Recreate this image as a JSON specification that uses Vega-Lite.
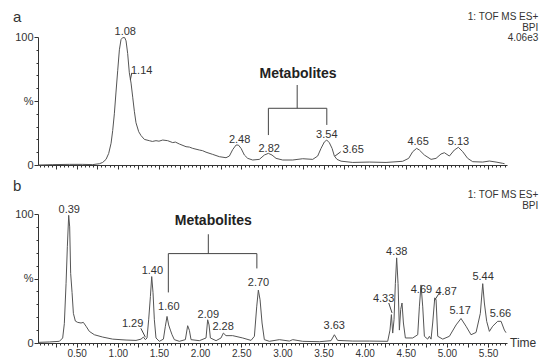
{
  "$schema": "https://vega.github.io/schema/vega-lite/v6.json",
  "padding": {"left": 13, "top": 10, "right": 0, "bottom": 0},
  "background": "white",
  "spacing": 9,
  "config": {
    "view": {"stroke": null},
    "font": "Liberation Sans",
    "axis": {"grid": false, "domainColor": "#333", "tickColor": "#333", "labelColor": "#333", "labelFont": "Liberation Sans"}
  },
  "datasets": {
    "a": [
      {"t":0.04,"v":0},{"t":0.209,"v":0.3},{"t":0.411,"v":0.5},{"t":0.573,"v":0.5},{"t":0.695,"v":0.3},{"t":0.776,"v":1},{"t":0.816,"v":2},{"t":0.857,"v":4.4},{"t":0.889,"v":9},{"t":0.918,"v":17},{"t":0.938,"v":27},{"t":0.958,"v":40},{"t":0.978,"v":57},{"t":0.999,"v":74},{"t":1.019,"v":90},{"t":1.039,"v":98},{"t":1.059,"v":99.5},{"t":1.084,"v":99.5},{"t":1.1,"v":97},{"t":1.12,"v":87},{"t":1.14,"v":72},{"t":1.161,"v":64},{"t":1.181,"v":53},{"t":1.201,"v":42},{"t":1.221,"v":33},{"t":1.254,"v":26},{"t":1.282,"v":23},{"t":1.323,"v":20},{"t":1.383,"v":19},{"t":1.42,"v":18.4},{"t":1.464,"v":19},{"t":1.5,"v":18.6},{"t":1.546,"v":19.5},{"t":1.606,"v":19},{"t":1.667,"v":17.5},{"t":1.7,"v":17.9},{"t":1.748,"v":16.4},{"t":1.829,"v":14.3},{"t":1.87,"v":14},{"t":1.91,"v":13},{"t":1.991,"v":11.7},{"t":2.03,"v":11.2},{"t":2.072,"v":10},{"t":2.153,"v":8.3},{"t":2.234,"v":6.5},{"t":2.315,"v":5.7},{"t":2.356,"v":7},{"t":2.396,"v":12},{"t":2.437,"v":15.6},{"t":2.465,"v":15.6},{"t":2.498,"v":13},{"t":2.538,"v":7.8},{"t":2.579,"v":5.2},{"t":2.639,"v":3.9},{"t":2.72,"v":4.4},{"t":2.781,"v":7.8},{"t":2.83,"v":9.1},{"t":2.874,"v":7.8},{"t":2.923,"v":5.2},{"t":3.004,"v":3.9},{"t":3.126,"v":3.9},{"t":3.247,"v":4.9},{"t":3.369,"v":4.4},{"t":3.429,"v":7},{"t":3.47,"v":13},{"t":3.51,"v":18},{"t":3.539,"v":19.5},{"t":3.571,"v":17.4},{"t":3.604,"v":13},{"t":3.632,"v":7},{"t":3.664,"v":4.4},{"t":3.713,"v":3},{"t":3.855,"v":2},{"t":4.057,"v":2.3},{"t":4.26,"v":2},{"t":4.462,"v":2.9},{"t":4.535,"v":5.2},{"t":4.584,"v":10.4},{"t":4.632,"v":13},{"t":4.665,"v":11.7},{"t":4.726,"v":7.8},{"t":4.807,"v":4.4},{"t":4.868,"v":5.2},{"t":4.928,"v":8.6},{"t":4.969,"v":9.6},{"t":5.03,"v":7},{"t":5.09,"v":11.7},{"t":5.139,"v":13.8},{"t":5.192,"v":10.4},{"t":5.252,"v":5.2},{"t":5.313,"v":2.6},{"t":5.435,"v":2.3},{"t":5.516,"v":3.1},{"t":5.597,"v":2.3},{"t":5.678,"v":1.3},{"t":5.7,"v":1}
    ],
    "b": [
      {"t":0.04,"v":0.5},{"t":0.168,"v":0.8},{"t":0.29,"v":1.3},{"t":0.33,"v":3.9},{"t":0.35,"v":15},{"t":0.371,"v":46},{"t":0.387,"v":75},{"t":0.403,"v":99},{"t":0.415,"v":90},{"t":0.427,"v":54},{"t":0.444,"v":39},{"t":0.46,"v":23},{"t":0.484,"v":17},{"t":0.512,"v":16},{"t":0.553,"v":15.5},{"t":0.581,"v":16},{"t":0.614,"v":13},{"t":0.654,"v":9},{"t":0.715,"v":6.4},{"t":0.816,"v":4.6},{"t":0.938,"v":3},{"t":1.1,"v":2.3},{"t":1.221,"v":2},{"t":1.282,"v":3},{"t":1.311,"v":4.6},{"t":1.335,"v":2.6},{"t":1.355,"v":3.9},{"t":1.375,"v":18},{"t":1.396,"v":36},{"t":1.412,"v":51.5},{"t":1.428,"v":39},{"t":1.444,"v":18},{"t":1.464,"v":3.9},{"t":1.505,"v":1.3},{"t":1.554,"v":3},{"t":1.578,"v":13},{"t":1.598,"v":20.6},{"t":1.618,"v":14},{"t":1.639,"v":10},{"t":1.659,"v":6.4},{"t":1.687,"v":2.6},{"t":1.748,"v":1.3},{"t":1.821,"v":2.6},{"t":1.849,"v":13.4},{"t":1.87,"v":9.8},{"t":1.89,"v":2.6},{"t":1.991,"v":1.8},{"t":2.072,"v":3.9},{"t":2.092,"v":18},{"t":2.109,"v":14},{"t":2.125,"v":3.9},{"t":2.194,"v":1.8},{"t":2.254,"v":3.9},{"t":2.283,"v":7.7},{"t":2.315,"v":5.7},{"t":2.396,"v":5.7},{"t":2.518,"v":3.9},{"t":2.619,"v":2},{"t":2.66,"v":5.2},{"t":2.688,"v":28},{"t":2.708,"v":41},{"t":2.729,"v":33.5},{"t":2.753,"v":15.5},{"t":2.781,"v":2.6},{"t":2.842,"v":1.3},{"t":2.963,"v":2.6},{"t":3.085,"v":1.5},{"t":3.126,"v":2.6},{"t":3.247,"v":1.3},{"t":3.45,"v":1},{"t":3.591,"v":1.8},{"t":3.632,"v":6.4},{"t":3.672,"v":2},{"t":3.855,"v":1.5},{"t":4.057,"v":1.5},{"t":4.28,"v":1.3},{"t":4.308,"v":10},{"t":4.325,"v":22},{"t":4.341,"v":7.7},{"t":4.357,"v":18},{"t":4.373,"v":46},{"t":4.389,"v":66},{"t":4.406,"v":46},{"t":4.422,"v":10},{"t":4.438,"v":26},{"t":4.454,"v":31},{"t":4.471,"v":15.5},{"t":4.495,"v":3.9},{"t":4.584,"v":3.9},{"t":4.645,"v":6.4},{"t":4.665,"v":28},{"t":4.685,"v":45},{"t":4.706,"v":28},{"t":4.726,"v":5.2},{"t":4.766,"v":3},{"t":4.787,"v":5.2},{"t":4.807,"v":3},{"t":4.827,"v":15.5},{"t":4.852,"v":35},{"t":4.868,"v":33.5},{"t":4.888,"v":5.2},{"t":4.949,"v":3},{"t":5.03,"v":5.2},{"t":5.111,"v":14},{"t":5.171,"v":19},{"t":5.232,"v":13},{"t":5.293,"v":6.4},{"t":5.354,"v":8.2},{"t":5.406,"v":23},{"t":5.435,"v":46},{"t":5.455,"v":31},{"t":5.483,"v":16.8},{"t":5.516,"v":9},{"t":5.556,"v":13},{"t":5.617,"v":16.8},{"t":5.658,"v":16.8},{"t":5.698,"v":10},{"t":5.718,"v":8}
    ],
    "la": [
      {"t":1.09,"v":101.5,"label":"1.08"},{"t":1.29,"v":71,"label":"1.14"},{"t":2.48,"v":17,"label":"2.48"},{"t":2.84,"v":10.4,"label":"2.82"},{"t":3.54,"v":20.8,"label":"3.54"},{"t":3.86,"v":9.6,"label":"3.65"},{"t":4.65,"v":15.6,"label":"4.65"},{"t":5.14,"v":15.6,"label":"5.13"}
    ],
    "lb": [
      {"t":0.41,"v":100.8,"label":"0.39"},{"t":1.18,"v":12.2,"label":"1.29"},{"t":1.42,"v":53.4,"label":"1.40"},{"t":1.62,"v":25.9,"label":"1.60"},{"t":2.1,"v":19.5,"label":"2.09"},{"t":2.28,"v":10.4,"label":"2.28"},{"t":2.71,"v":43.9,"label":"2.70"},{"t":3.63,"v":11,"label":"3.63"},{"t":4.23,"v":31.5,"label":"4.33"},{"t":4.39,"v":68,"label":"4.38"},{"t":4.69,"v":39,"label":"4.69"},{"t":4.99,"v":37.2,"label":"4.87"},{"t":5.16,"v":22.5,"label":"5.17"},{"t":5.44,"v":49,"label":"5.44"},{"t":5.65,"v":20,"label":"5.66"}
    ],
    "ba": [
      {"t":3.18,"t2":3.18,"v":62.5,"v2":44.3},{"t":2.83,"t2":3.54,"v":44.3,"v2":44.3},{"t":2.83,"t2":2.83,"v":44.3,"v2":23.4},{"t":3.54,"t2":3.54,"v":44.3,"v2":31.3},{"t":1.152,"t2":1.17,"v":66.4,"v2":72},{"t":3.64,"t2":3.71,"v":7,"v2":10.4}
    ],
    "bb": [
      {"t":2.1,"t2":2.1,"v":84.3,"v2":69.3},{"t":1.614,"t2":2.69,"v":69.3,"v2":69.3},{"t":1.614,"t2":1.614,"v":69.3,"v2":39.2},{"t":2.69,"t2":2.69,"v":69.3,"v2":57.8},{"t":1.28,"t2":1.335,"v":11.4,"v2":4.5},{"t":4.293,"t2":4.333,"v":31,"v2":23.3},{"t":4.847,"t2":4.908,"v":32.8,"v2":38.8}
    ]
  },
  "vconcat": [
    {
      "width": 469,
      "height": 128,
      "encoding": {
        "x": {"field": "t", "type": "quantitative", "scale": {"domain": [0.03, 5.73], "nice": false, "zero": false},
          "axis": {"title": null, "labels": false,
            "values": [0.05,0.1,0.15,0.2,0.25,0.3,0.35,0.4,0.45,0.5,0.55,0.6,0.65,0.7,0.75,0.8,0.85,0.9,0.95,1,1.05,1.1,1.15,1.2,1.25,1.3,1.35,1.4,1.45,1.5,1.55,1.6,1.65,1.7,1.75,1.8,1.85,1.9,1.95,2,2.05,2.1,2.15,2.2,2.25,2.3,2.35,2.4,2.45,2.5,2.55,2.6,2.65,2.7,2.75,2.8,2.85,2.9,2.95,3,3.05,3.1,3.15,3.2,3.25,3.3,3.35,3.4,3.45,3.5,3.55,3.6,3.65,3.7,3.75,3.8,3.85,3.9,3.95,4,4.05,4.1,4.15,4.2,4.25,4.3,4.35,4.4,4.45,4.5,4.55,4.6,4.65,4.7,4.75,4.8,4.85,4.9,4.95,5,5.05,5.1,5.15,5.2,5.25,5.3,5.35,5.4,5.45,5.5,5.55,5.6,5.65,5.7],
            "tickSize": {"condition": {"test": "abs(datum.value*4-round(datum.value*4))<0.01", "value": 4}, "value": 2}}},
        "y": {"field": "v", "type": "quantitative", "scale": {"domain": [0, 100], "nice": false},
          "axis": {"title": null, "values": [0,10,20,30,40,50,60,70,80,90,100], "labelFontSize": 11, "labelPadding": 1,
            "labelExpr": "datum.value==0?'0':datum.value==50?'%':datum.value==100?'100':''",
            "tickSize": {"condition": {"test": "datum.value%50==0", "value": 4}, "value": 2}}}
      },
      "layer": [
        {"data": {"name": "a"}, "mark": {"type": "line", "color": "#555", "strokeWidth": 1}},
        {"data": {"name": "ba"}, "mark": {"type": "rule", "color": "#444", "strokeWidth": 1},
          "encoding": {"x2": {"field": "t2"}, "y2": {"field": "v2"}}},
        {"data": {"name": "la"}, "mark": {"type": "text", "fontSize": 11, "color": "#333", "baseline": "alphabetic", "align": "center"},
          "encoding": {"text": {"field": "label"}}},
        {"data": {"values": [{"t": 3.19, "v": 71, "label": "Metabolites"}]}, "mark": {"type": "text", "fontSize": 14, "fontWeight": "bold", "color": "#222", "baseline": "middle", "align": "center"},
          "encoding": {"text": {"field": "label"}}},
        {"data": {"values": [{"t": -0.273, "v": 111.7, "label": "a"}]}, "mark": {"type": "text", "fontSize": 15, "color": "#333", "baseline": "alphabetic", "align": "left"},
          "encoding": {"text": {"field": "label"}}},
        {"data": {"values": [{"t": 6.11, "v": 112.9, "label": "1: TOF MS ES+"}, {"t": 6.11, "v": 104.7, "label": "BPI"}, {"t": 6.11, "v": 96.5, "label": "4.06e3"}]}, "mark": {"type": "text", "fontSize": 10, "color": "#333", "baseline": "alphabetic", "align": "right"},
          "encoding": {"text": {"field": "label"}}}
      ]
    },
    {
      "width": 469,
      "height": 129,
      "encoding": {
        "x": {"field": "t", "type": "quantitative", "scale": {"domain": [0.03, 5.73], "nice": false, "zero": false},
          "axis": {"title": null, "labelFontSize": 10, "labelPadding": 1, "labelOverlap": false, "labelFlush": false,
            "labelExpr": "abs(datum.value*2-round(datum.value*2))<0.01 ? format(datum.value, '.2f') : ''",
            "values": [0.05,0.1,0.15,0.2,0.25,0.3,0.35,0.4,0.45,0.5,0.55,0.6,0.65,0.7,0.75,0.8,0.85,0.9,0.95,1,1.05,1.1,1.15,1.2,1.25,1.3,1.35,1.4,1.45,1.5,1.55,1.6,1.65,1.7,1.75,1.8,1.85,1.9,1.95,2,2.05,2.1,2.15,2.2,2.25,2.3,2.35,2.4,2.45,2.5,2.55,2.6,2.65,2.7,2.75,2.8,2.85,2.9,2.95,3,3.05,3.1,3.15,3.2,3.25,3.3,3.35,3.4,3.45,3.5,3.55,3.6,3.65,3.7,3.75,3.8,3.85,3.9,3.95,4,4.05,4.1,4.15,4.2,4.25,4.3,4.35,4.4,4.45,4.5,4.55,4.6,4.65,4.7,4.75,4.8,4.85,4.9,4.95,5,5.05,5.1,5.15,5.2,5.25,5.3,5.35,5.4,5.45,5.5,5.55,5.6,5.65,5.7],
            "tickSize": {"condition": {"test": "abs(datum.value*4-round(datum.value*4))<0.01", "value": 4}, "value": 2}}},
        "y": {"field": "v", "type": "quantitative", "scale": {"domain": [0, 100], "nice": false},
          "axis": {"title": null, "values": [0,10,20,30,40,50,60,70,80,90,100], "labelFontSize": 11, "labelPadding": 1,
            "labelExpr": "datum.value==0?'0':datum.value==50?'%':datum.value==100?'100':''",
            "tickSize": {"condition": {"test": "datum.value%50==0", "value": 4}, "value": 2}}}
      },
      "layer": [
        {"data": {"name": "b"}, "mark": {"type": "line", "color": "#555", "strokeWidth": 1}},
        {"data": {"name": "bb"}, "mark": {"type": "rule", "color": "#444", "strokeWidth": 1},
          "encoding": {"x2": {"field": "t2"}, "y2": {"field": "v2"}}},
        {"data": {"name": "lb"}, "mark": {"type": "text", "fontSize": 11, "color": "#333", "baseline": "alphabetic", "align": "center"},
          "encoding": {"text": {"field": "label"}}},
        {"data": {"values": [{"t": 2.16, "v": 94.6, "label": "Metabolites"}]}, "mark": {"type": "text", "fontSize": 14, "fontWeight": "bold", "color": "#222", "baseline": "middle", "align": "center"},
          "encoding": {"text": {"field": "label"}}},
        {"data": {"values": [{"t": -0.273, "v": 117.8, "label": "b"}]}, "mark": {"type": "text", "fontSize": 15, "color": "#333", "baseline": "alphabetic", "align": "left"},
          "encoding": {"text": {"field": "label"}}},
        {"data": {"values": [{"t": 6.11, "v": 112.4, "label": "1: TOF MS ES+"}, {"t": 6.11, "v": 103.9, "label": "BPI"}]}, "mark": {"type": "text", "fontSize": 10, "color": "#333", "baseline": "alphabetic", "align": "right"},
          "encoding": {"text": {"field": "label"}}},
        {"data": {"values": [{"t": 5.767, "v": 0, "label": "Time"}]}, "mark": {"type": "text", "fontSize": 12, "color": "#333", "baseline": "middle", "align": "left"},
          "encoding": {"text": {"field": "label"}}}
      ]
    }
  ]
}
